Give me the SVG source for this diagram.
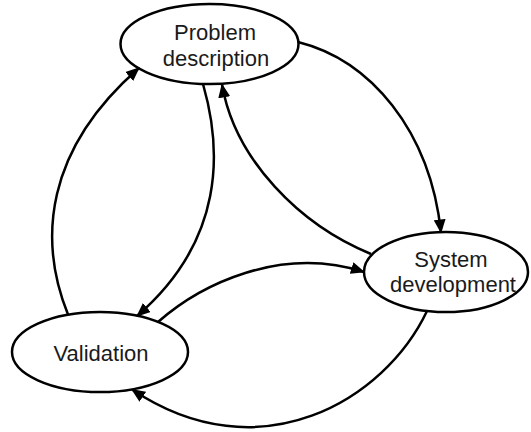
<svg xmlns="http://www.w3.org/2000/svg" width="531" height="432" viewBox="0 0 531 432">
  <style>
    .node ellipse { fill: #ffffff; stroke: #000000; stroke-width: 2.5; }
    .node text { font-family: "Liberation Sans", Arial, sans-serif; font-size: 22px; fill: #1a1a1a; text-anchor: middle; }
    .edge { fill: none; stroke: #000000; stroke-width: 2.5; marker-end: url(#arrow); }
  </style>
  <defs>
    <marker id="arrow" viewBox="0 0 14 12" refX="13" refY="6" markerWidth="14" markerHeight="12" markerUnits="userSpaceOnUse" orient="auto">
      <path d="M0,0 L14,6 L0,12 Z" fill="#000000"/>
    </marker>
  </defs>
  <rect width="531" height="432" fill="#ffffff"/>

  <g id="problem" class="node">
    <ellipse cx="209.5" cy="44" rx="89" ry="40"/>
    <text x="215" y="40">Problem</text>
    <text x="216" y="66">description</text>
  </g>

  <g id="system" class="node">
    <ellipse cx="446" cy="272" rx="82" ry="40"/>
    <text x="451" y="267">System</text>
    <text x="453" y="292">development</text>
  </g>

  <g id="validation" class="node">
    <ellipse cx="100" cy="352" rx="88" ry="40"/>
    <text x="101" y="361">Validation</text>
  </g>

  <g id="connectors">
    <path class="edge" d="M298,42 C370,60 430,130 441,232.5"/>
    <path class="edge" d="M371,254 C300,225 235,160 222,84.5"/>
    <path class="edge" d="M203,84 C222,150 225,240 137,316"/>
    <path class="edge" d="M158,322 C200,285 280,245 364,272"/>
    <path class="edge" d="M427,311 C385,400 260,475 132,389.5"/>
    <path class="edge" d="M68,314.5 C38,240 45,150 139,68"/>
  </g>
</svg>
